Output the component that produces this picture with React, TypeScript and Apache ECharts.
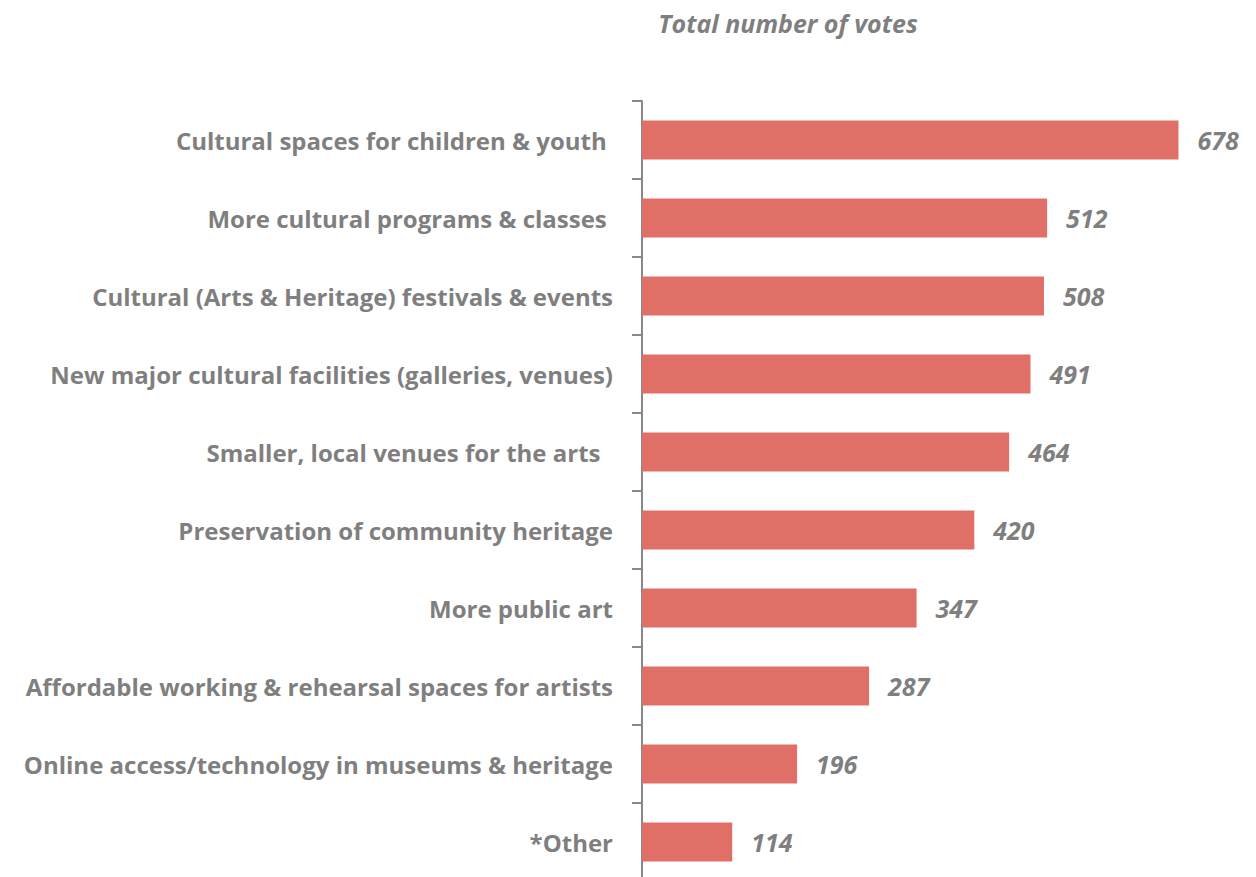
import React, { useEffect, useRef } from "react";
import * as echarts from "echarts";

const categories = [
  "Cultural spaces for children & youth ",
  "More cultural programs & classes ",
  "Cultural (Arts & Heritage) festivals & events",
  "New major cultural facilities (galleries, venues)",
  "Smaller, local venues for the arts  ",
  "Preservation of community heritage",
  "More public art",
  "Affordable working & rehearsal spaces for artists",
  "Online access/technology in museums & heritage",
  "*Other",
];
const votes = [678, 512, 508, 491, 464, 420, 347, 287, 196, 114];
const title = "Total number of votes";

export default function App() {
  const ref = useRef<HTMLDivElement>(null);
  useEffect(() => {
    const chart = echarts.init(ref.current!, null, { renderer: "svg" });
    const font = "'Open Sans', sans-serif";
    chart.setOption({
      animation: false,
      title: {
        text: title,
        left: 783,
        top: 5,
        textAlign: "center",
        textStyle: { color: "#7f7f7f", fontSize: 25, fontWeight: "bold", fontStyle: "italic", fontFamily: font },
      },
      grid: { left: 642, top: 101, width: 633, height: 780, containLabel: false, outerBoundsMode: "none" },
      xAxis: { type: "value", min: 0, max: 800, show: false },
      yAxis: {
        type: "category",
        data: categories,
        inverse: true,
        axisLine: { show: true, lineStyle: { color: "#888888", width: 2 } },
        axisTick: { show: true, length: 10, inside: false, alignWithLabel: false, lineStyle: { color: "#888888", width: 2 } },
        axisLabel: {
          margin: 29,
          color: "#7f7f7f",
          fontSize: 24,
          fontWeight: "bold",
          fontFamily: font,
        },
      },
      series: [
        {
          type: "bar",
          data: votes,
          barWidth: 39,
          itemStyle: { color: "#e06f67" },
          label: {
            show: true,
            position: "right",
            distance: 19,
            color: "#7f7f7f",
            fontSize: 25,
            fontWeight: "bold",
            fontStyle: "italic",
            fontFamily: font,
          },
        },
      ],
    });
    return () => chart.dispose();
  }, []);
  return <div ref={ref} style={{ position: "absolute", left: 0, top: 0, width: 1256, height: 877 }} />;
}
